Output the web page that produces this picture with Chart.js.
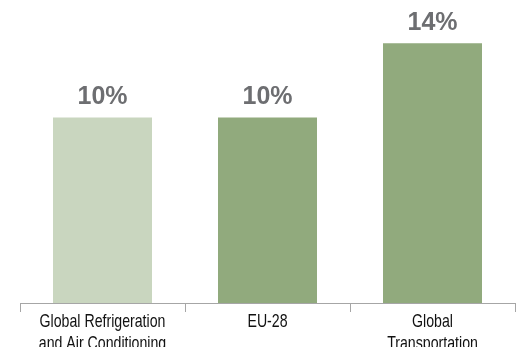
<!DOCTYPE html>
<html><head><meta charset="utf-8">
<script src="https://cdn.jsdelivr.net/npm/chart.js@4"></script>
<style>
html,body{margin:0;padding:0;background:#fff;overflow:hidden;}
#wrap{position:relative;width:522px;height:347px;overflow:hidden;}
</style></head>
<body>
<div id="wrap"><canvas id="c" width="522" height="347"></canvas></div>
<script>
const categories = [["Global Refrigeration","and Air Conditioning"],["EU-28"],["Global","Transportation"]];
const values = [10, 10, 14];
const valueLabels = ["10%", "10%", "14%"];
const barColors = ["#c9d6bf", "#91aa7d", "#91aa7d"];

const topLabels = {
  id: 'topLabels',
  afterDatasetsDraw(chart) {
    const ctx = chart.ctx;
    const meta = chart.getDatasetMeta(0);
    ctx.save();
    ctx.fillStyle = '#6d6e71';
    ctx.font = 'bold 25px "Liberation Sans", Arial, sans-serif';
    ctx.textAlign = 'center';
    ctx.textBaseline = 'alphabetic';
    meta.data.forEach((bar, i) => {
      ctx.fillText(valueLabels[i], bar.x, bar.y - 13);
    });
    ctx.restore();
  }
};

// condensed category labels, positioned from the library's x scale
const condensedTicks = {
  id: 'condensedTicks',
  afterDraw(chart) {
    const ctx = chart.ctx;
    const xs = chart.scales.x;
    ctx.save();
    ctx.fillStyle = '#111111';
    ctx.font = '19px "Liberation Sans", Arial, sans-serif';
    ctx.textAlign = 'center';
    ctx.textBaseline = 'alphabetic';
    categories.forEach((lines, i) => {
      const x = xs.getPixelForTick(i);
      lines.forEach((t, j) => {
        ctx.save();
        ctx.translate(x, xs.top + 23.7 + j * 22.7);
        ctx.scale(0.745, 1);
        ctx.fillText(t, 0, 0);
        ctx.restore();
      });
    });
    ctx.restore();
  }
};

new Chart(document.getElementById('c'), {
  type: 'bar',
  data: {
    labels: categories,
    datasets: [{
      data: values,
      backgroundColor: barColors,
      categoryPercentage: 1,
      barPercentage: 0.6
    }]
  },
  options: {
    responsive: false,
    animation: false,
    layout: { padding: { left: 20, right: 7, top: 0, bottom: 0 } },
    plugins: { legend: { display: false }, tooltip: { enabled: false } },
    scales: {
      x: {
        offset: true,
        grid: { display: true, offset: true, drawOnChartArea: false, drawTicks: true, tickLength: 9, color: '#a6a6a6', lineWidth: 1 },
        border: { display: true, color: '#a6a6a6', width: 1 },
        ticks: {
          color: 'rgba(0,0,0,0)',
          padding: 0,
          maxRotation: 0,
          autoSkip: false,
          font: { family: '"Liberation Sans", sans-serif', size: 12 }
        },
        afterFit(scale) { scale.height = 44; }
      },
      y: {
        display: false,
        min: 0,
        max: 16.33
      }
    }
  },
  plugins: [topLabels, condensedTicks]
});
</script>
</body></html>
